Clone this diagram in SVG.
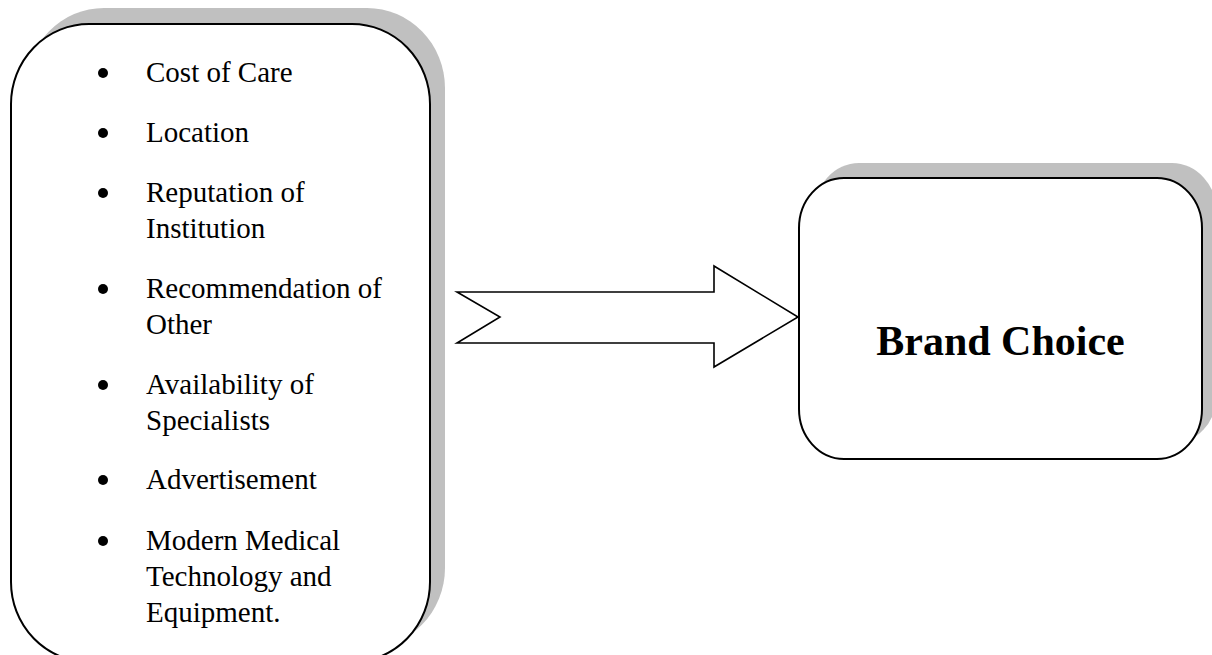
<svg xmlns="http://www.w3.org/2000/svg" width="1212" height="655" viewBox="0 0 1212 655">
<style>
.shadow{fill:#c0c0c0;stroke:none}
.box{fill:#fff;stroke:#000;stroke-width:2}
.item{font-family:"Liberation Serif","Times New Roman",serif;font-size:29px;fill:#000}
.title{font-family:"Liberation Serif","Times New Roman",serif;font-size:42px;font-weight:bold;fill:#000}
.arrow{fill:#fff;stroke:#000;stroke-width:1.6;stroke-linejoin:miter}
</style>
<rect width="1212" height="655" fill="#fff"/>
<g id="factors">
<rect class="shadow" x="26" y="8" width="419" height="640" rx="78" ry="80"/>
<rect class="box" x="11" y="24" width="419" height="638" rx="78" ry="80"/>
<g fill="#000">
<circle cx="103" cy="73" r="5"/>
<circle cx="103" cy="133" r="5"/>
<circle cx="103" cy="193" r="5"/>
<circle cx="103" cy="289" r="5"/>
<circle cx="103" cy="385" r="5"/>
<circle cx="103" cy="480" r="5"/>
<circle cx="103" cy="541" r="5"/>
</g>
<text class="item" x="146" y="82">Cost of Care</text>
<text class="item" x="146" y="142">Location</text>
<text class="item" x="146" y="202">Reputation of</text>
<text class="item" x="146" y="238">Institution</text>
<text class="item" x="146" y="298">Recommendation of</text>
<text class="item" x="146" y="334">Other</text>
<text class="item" x="146" y="394">Availability of</text>
<text class="item" x="146" y="430">Specialists</text>
<text class="item" x="146" y="489">Advertisement</text>
<text class="item" x="146" y="550">Modern Medical</text>
<text class="item" x="146" y="586">Technology and</text>
<text class="item" x="146" y="622">Equipment.</text>
</g>
<g id="connectors">
<polygon class="arrow" points="457,292 714,292 714,266 798,317 714,367 714,343 457,343 500,317"/>
</g>
<g id="brand-choice">
<rect class="shadow" x="814" y="163" width="403" height="281" rx="45" ry="50"/>
<rect class="box" x="799" y="178" width="403" height="281" rx="45" ry="50"/>
<text class="title" x="1000.5" y="355" text-anchor="middle">Brand Choice</text>
</g>
</svg>
